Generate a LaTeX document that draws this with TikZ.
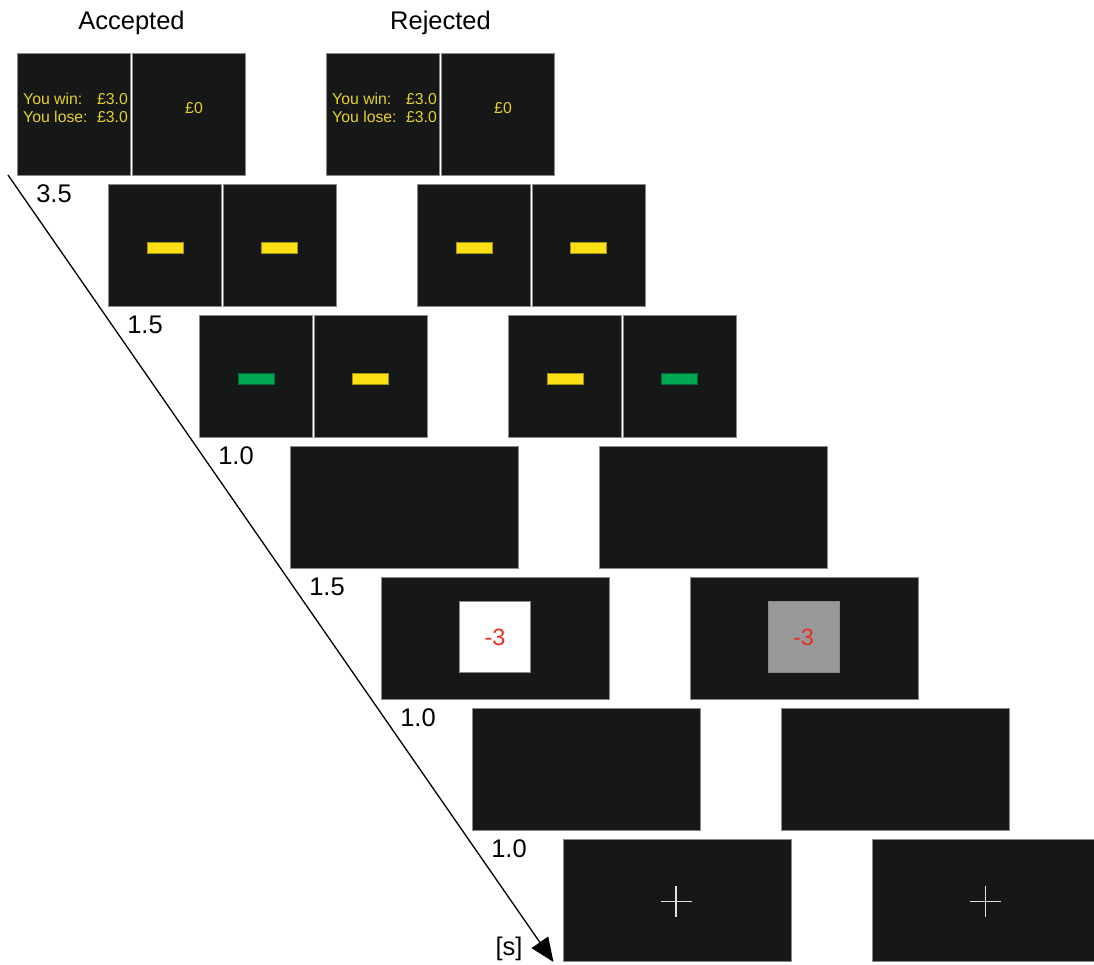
\documentclass[tikz,border=0pt]{standalone}
\usepackage{fontspec}
\setmainfont{Liberation Sans}
\usetikzlibrary{arrows.meta}
\definecolor{scr}{HTML}{161817}
\definecolor{edge}{HTML}{8A8A8A}
\definecolor{bary}{HTML}{FCE015}
\definecolor{barg}{HTML}{00A651}
\definecolor{txty}{HTML}{E6D02A}
\definecolor{redn}{HTML}{E63222}
\definecolor{grsq}{HTML}{999999}
\definecolor{crossc}{HTML}{E0E0E0}
\begin{document}
\begin{tikzpicture}[x=1pt,y=-1pt,
  screen/.style={draw=edge, line width=1.2pt, fill=scr, inner sep=0pt, anchor=north west, minimum height=122pt},
  halfscr/.style={screen, minimum width=113pt},
  fullscr/.style={screen, minimum width=228pt},
  barbox/.style={inner sep=0pt, minimum width=36pt, minimum height=11pt, line width=0.6pt},
  ybar/.style={barbox, fill=bary, draw=bary!65!black},
  gbar/.style={barbox, fill=barg, draw=barg!65!black},
  scrtxt/.style={inner sep=0pt, text=txty, font=\fontsize{15.8}{18}\selectfont},
  head/.style={inner sep=0pt, anchor=base, font=\fontsize{25.5}{29}\selectfont},
  timelbl/.style={inner sep=0pt, font=\fontsize{25.5}{29}\selectfont},
  fbsq/.style={inner sep=0pt, minimum width=71pt, minimum height=71pt, draw=edge, line width=0.8pt, text=redn, font=\fontsize{23.5}{27}\selectfont},
  crossline/.style={draw=crossc, line width=1.8pt}
]
\useasboundingbox[fill=white] (0,0) rectangle (1094,965);

% headings
\node[head] (hacc) at (131.5,29.3) {Accepted};
\node[head] (hrej) at (440.5,29.3) {Rejected};

% row 0: offer (y=53)
\node[halfscr] (a0l) at (17,53) {};
\node[halfscr] (a0r) at (132,53) {};
\node[halfscr] (r0l) at (326,53) {};
\node[halfscr] (r0r) at (441,53) {};
\node[scrtxt, anchor=base west] (a0w) at (23,105) {You win:};
\node[scrtxt, anchor=base east] (a0wv) at (128,105) {£3.0};
\node[scrtxt, anchor=base west] (a0s) at (23,123) {You lose:};
\node[scrtxt, anchor=base east] (a0sv) at (128,123) {£3.0};
\node[scrtxt] (a0z) at (194,108) {£0};
\node[scrtxt, anchor=base west] (r0w) at (332,105) {You win:};
\node[scrtxt, anchor=base east] (r0wv) at (437,105) {£3.0};
\node[scrtxt, anchor=base west] (r0s) at (332,123) {You lose:};
\node[scrtxt, anchor=base east] (r0sv) at (437,123) {£3.0};
\node[scrtxt] (r0z) at (503,108) {£0};

% row 1 (y=184)
\node[halfscr] (a1l) at (108,184) {};
\node[halfscr] (a1r) at (223,184) {};
\node[halfscr] (r1l) at (417,184) {};
\node[halfscr] (r1r) at (532,184) {};
\node[ybar] (a1bl) at (165,248) {};
\node[ybar] (a1br) at (279,248) {};
\node[ybar] (r1bl) at (474,248) {};
\node[ybar] (r1br) at (588,248) {};

% row 2 (y=315)
\node[halfscr] (a2l) at (199,315) {};
\node[halfscr] (a2r) at (314,315) {};
\node[halfscr] (r2l) at (508,315) {};
\node[halfscr] (r2r) at (623,315) {};
\node[gbar] (a2bl) at (256,379) {};
\node[ybar] (a2br) at (370,379) {};
\node[ybar] (r2bl) at (565,379) {};
\node[gbar] (r2br) at (679,379) {};

% row 3 (y=446)
\node[fullscr] (a3) at (290,446) {};
\node[fullscr] (r3) at (599,446) {};

% row 4 (y=577)
\node[fullscr] (a4) at (381,577) {};
\node[fullscr] (r4) at (690,577) {};
\node[fbsq, fill=white] (a4sq) at (495,637) {-3};
\node[fbsq, fill=grsq] (r4sq) at (803.5,637) {-3};

% row 5 (y=708)
\node[fullscr] (a5) at (472,708) {};
\node[fullscr] (r5) at (781,708) {};

% row 6 (y=839)
\node[fullscr] (a6) at (563,839) {};
\node[fullscr] (r6) at (872,839) {};
\draw[crossline] (660.5,901.5) -- (691.5,901.5);
\draw[crossline] (676,886) -- (676,917);
\draw[crossline] (970,901.5) -- (1001,901.5);
\draw[crossline] (985.5,886) -- (985.5,917);

% time arrow
\coordinate (tstart) at (8,175);
\coordinate (tend) at (553.5,962);
\draw[line width=1.3pt, -{Triangle[length=24pt,width=20pt]}] (tstart) -- (tend);

% time labels
\node[timelbl] (t0) at (54,194) {3.5};
\node[timelbl] (t1) at (145,325) {1.5};
\node[timelbl] (t2) at (236,456) {1.0};
\node[timelbl] (t3) at (327,587) {1.5};
\node[timelbl] (t4) at (418,718) {1.0};
\node[timelbl] (t5) at (509,849) {1.0};
\node[timelbl] (tunit) at (509,949) {[s]};
\end{tikzpicture}
\end{document}
